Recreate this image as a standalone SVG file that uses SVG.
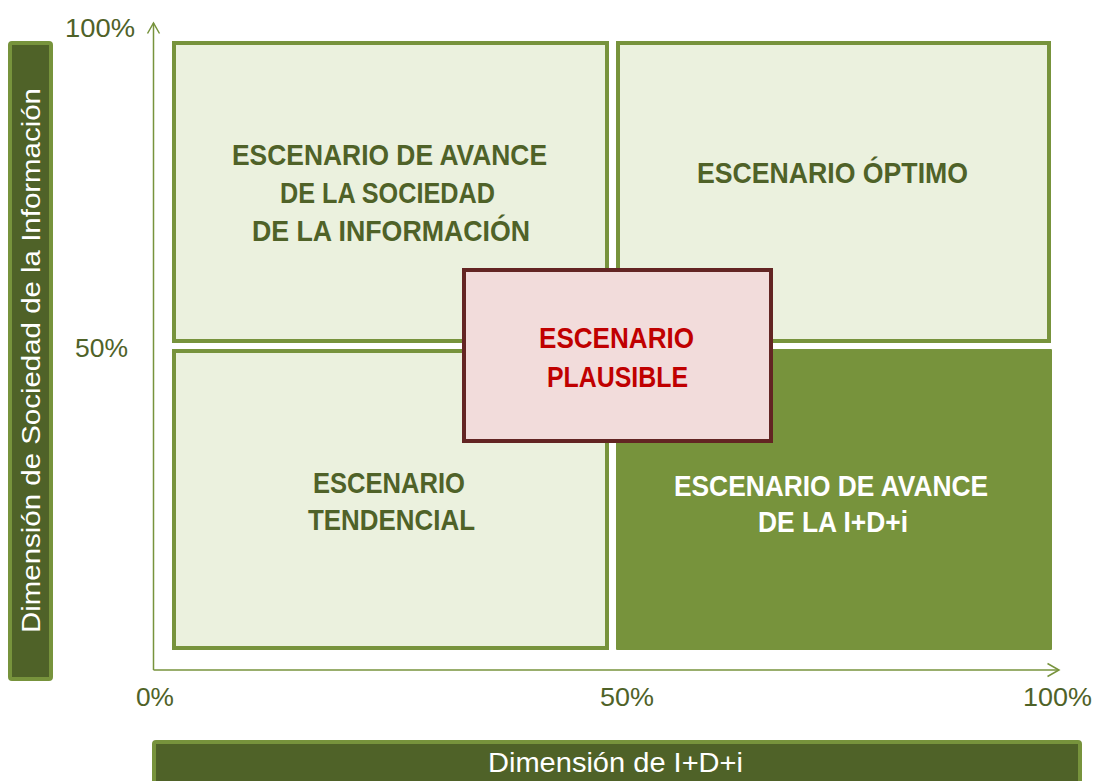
<svg xmlns="http://www.w3.org/2000/svg" width="1095" height="781" viewBox="0 0 1095 781">
<defs>
<style>
.quad{fill:#EBF1DE;stroke:#77933C;stroke-width:4}
.dark{fill:#4F6228;stroke:#77933C;stroke-width:4}
.lbl{font-family:"Liberation Sans",Arial,sans-serif;font-weight:bold;font-size:30px;fill:#4F6228;text-anchor:middle}
.ax{font-family:"Liberation Sans",Arial,sans-serif;font-size:26px;fill:#4F6228}
.axline{stroke:#77933C;stroke-width:1.5;fill:none}
</style>
</defs>
<rect width="1095" height="781" fill="#FFFFFF"/>
<g id="connectors">
<line class="axline" x1="153.5" y1="670" x2="153.5" y2="23"/>
<polyline class="axline" points="147.5,33.5 153.5,23 159.5,33.5"/>
<line class="axline" x1="153.5" y1="670" x2="1059" y2="670"/>
<polyline class="axline" points="1047.5,663.5 1059,670 1047.5,676.5"/>
</g>
<g id="y-axis-title">
<rect class="dark" x="10" y="43" width="41" height="636" rx="2"/>
<text transform="translate(40,360.5) rotate(-90)" text-anchor="middle" font-family="Liberation Sans, Arial, sans-serif" font-size="26" fill="#FFFFFF" textLength="545" lengthAdjust="spacingAndGlyphs">Dimensión de Sociedad de la Información</text>
</g>
<g id="x-axis-title">
<rect class="dark" x="154" y="742" width="926" height="50" rx="2"/>
<text x="615.5" y="772" text-anchor="middle" font-family="Liberation Sans, Arial, sans-serif" font-size="27" fill="#FFFFFF" textLength="255" lengthAdjust="spacingAndGlyphs">Dimensión de I+D+i</text>
</g>
<g id="axis-labels">
<text class="ax" x="65" y="37" textLength="70" lengthAdjust="spacingAndGlyphs">100%</text>
<text class="ax" x="75" y="357" textLength="53" lengthAdjust="spacingAndGlyphs">50%</text>
<text class="ax" x="136" y="706" textLength="38" lengthAdjust="spacingAndGlyphs">0%</text>
<text class="ax" x="600" y="706" textLength="54" lengthAdjust="spacingAndGlyphs">50%</text>
<text class="ax" x="1023" y="706" textLength="69" lengthAdjust="spacingAndGlyphs">100%</text>
</g>
<g id="q-sociedad">
<rect class="quad" x="174" y="43" width="433" height="298"/>
<text class="lbl" x="389.5" y="165" textLength="315" lengthAdjust="spacingAndGlyphs">ESCENARIO DE AVANCE</text>
<text class="lbl" x="387.5" y="203" textLength="215" lengthAdjust="spacingAndGlyphs">DE LA SOCIEDAD</text>
<text class="lbl" x="391" y="241" textLength="278" lengthAdjust="spacingAndGlyphs">DE LA INFORMACIÓN</text>
</g>
<g id="q-optimo">
<rect class="quad" x="618" y="43" width="431" height="298"/>
<text class="lbl" x="832.5" y="183" textLength="271" lengthAdjust="spacingAndGlyphs">ESCENARIO ÓPTIMO</text>
</g>
<g id="q-tendencial">
<rect class="quad" x="174" y="351" width="433" height="297"/>
<text class="lbl" x="389" y="493" textLength="152" lengthAdjust="spacingAndGlyphs">ESCENARIO</text>
<text class="lbl" x="391.5" y="530" textLength="167" lengthAdjust="spacingAndGlyphs">TENDENCIAL</text>
</g>
<g id="q-idi">
<rect x="616" y="349" width="436" height="301" fill="#77933C" rx="1"/>
<text class="lbl" x="831" y="496" style="fill:#FFFFFF" textLength="314" lengthAdjust="spacingAndGlyphs">ESCENARIO DE AVANCE</text>
<text class="lbl" x="833" y="532" style="fill:#FFFFFF" textLength="150" lengthAdjust="spacingAndGlyphs">DE LA I+D+i</text>
</g>
<g id="plausible">
<rect x="464" y="270" width="307" height="171" fill="#F2DCDB" stroke="#632523" stroke-width="4"/>
<text class="lbl" x="616.5" y="348" style="fill:#C00000" textLength="155" lengthAdjust="spacingAndGlyphs">ESCENARIO</text>
<text class="lbl" x="617.5" y="387" style="fill:#C00000" textLength="141" lengthAdjust="spacingAndGlyphs">PLAUSIBLE</text>
</g>
</svg>
